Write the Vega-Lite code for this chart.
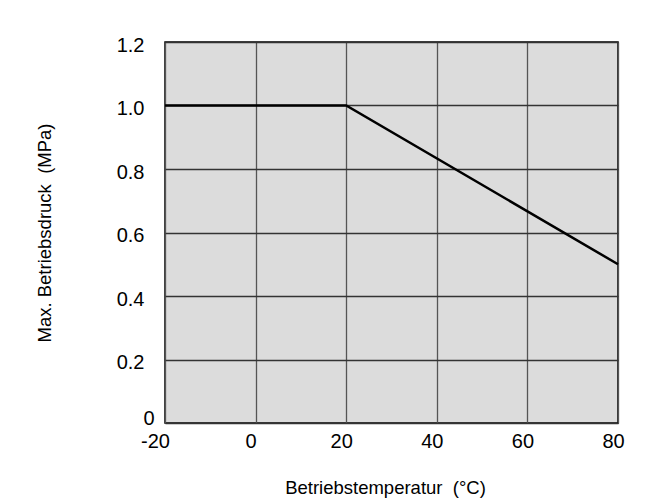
{
  "$schema": "https://vega.github.io/schema/vega-lite/v6.json",
  "width": 453,
  "height": 381,
  "autosize": {"type": "none"},
  "padding": {"left": 165, "top": 42, "right": 53, "bottom": 78},
  "background": "white",
  "config": {
    "font": "Liberation Sans",
    "view": {"fill": "#dcdcdc", "stroke": "#000000", "strokeWidth": 1.5}
  },
  "data": {
    "values": [
      {"t": -20, "p": 1.0},
      {"t": 20, "p": 1.0},
      {"t": 80, "p": 0.5}
    ]
  },
  "mark": {"type": "line", "color": "#000000", "strokeWidth": 2.5},
  "encoding": {
    "x": {
      "field": "t",
      "type": "quantitative",
      "scale": {"domain": [-20, 80], "nice": false, "zero": false},
      "axis": {
        "title": "Betriebstemperatur \u00a0(°C)",
        "values": [-20, 0, 20, 40, 60, 80],
        "labelExpr": "'' + datum.value",
        "grid": true,
        "gridColor": "#555555",
        "gridOpacity": 1,
        "gridWidth": 1.3,
        "domain": false,
        "ticks": false,
        "labelFontSize": 20,
        "labelColor": "#000000",
        "labelPadding": 8,
        "labelOffset": {"condition": {"test": "datum.value == -20", "value": -10}, "value": -5},
        "labelFlush": false,
        "labelOverlap": false,
        "titleFontSize": 18.5,
        "titleFontWeight": "normal",
        "titleColor": "#000000",
        "titlePadding": 27,
        "titleX": 220
      }
    },
    "y": {
      "field": "p",
      "type": "quantitative",
      "scale": {"domain": [0, 1.2], "nice": false},
      "axis": {
        "title": "Max. Betriebsdruck \u00a0(MPa)",
        "values": [0, 0.2, 0.4, 0.6, 0.8, 1.0, 1.2],
        "labelExpr": "datum.value == 0 ? '0' : format(datum.value, '.1f')",
        "grid": true,
        "gridColor": "#333333",
        "gridOpacity": 1,
        "gridWidth": 1.3,
        "domain": false,
        "ticks": false,
        "labelFontSize": 20,
        "labelColor": "#000000",
        "labelPadding": {"condition": {"test": "datum.value == 0", "value": 11}, "value": 21},
        "labelOffset": {"condition": {"test": "datum.value == 0", "value": -5}, "value": 3},
        "labelFlush": false,
        "labelOverlap": false,
        "titleFontSize": 18.5,
        "titleFontWeight": "normal",
        "titleColor": "#000000",
        "titlePadding": 62
      }
    }
  }
}
